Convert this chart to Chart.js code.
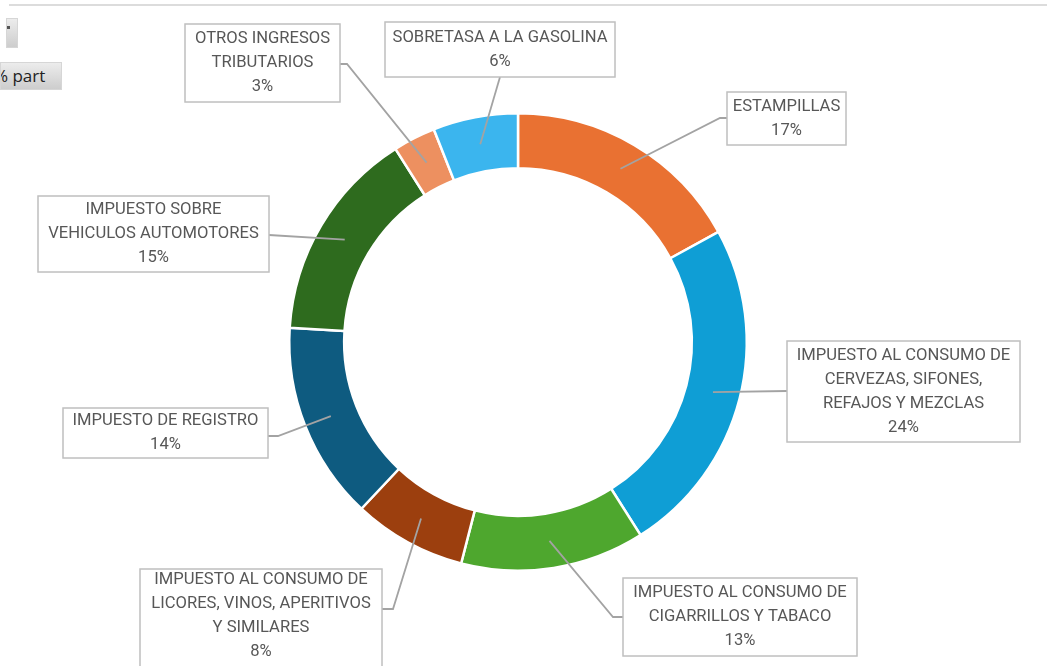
<!DOCTYPE html>
<html lang="es">
<head>
<meta charset="utf-8">
<title>Ingresos tributarios - % part</title>
<script src="https://cdn.jsdelivr.net/npm/chart.js@4.4.1/dist/chart.umd.min.js"></script>
<style>
  html, body { margin: 0; padding: 0; background: #fff; overflow: hidden; }
  #wrap { position: relative; width: 1047px; height: 666px; }
  #donut { position: absolute; left: 0; top: 0; }
  .topline { position: absolute; left: 9px; top: 4px; width: 1038px; height: 2px; background: #dcdcdc; }
  .btn { position: absolute; background: linear-gradient(#ececec, #cdcdcd); border: 1px solid #d6d6d6; box-sizing: border-box; overflow: hidden; }
  #btnFilter { left: 6px; top: 18px; width: 12px; height: 30px; }
  #btnFilter span { position: absolute; left: 0; top: 7px; width: 3px; height: 3px; background: #555; }
  #btnField { left: 0; top: 62px; width: 62px; height: 28px; font: 17px "Open Sans", "DejaVu Sans", sans-serif; color: #222; }
  #btnField div { position: absolute; left: -7px; top: 1px; white-space: nowrap; }
</style>
</head>
<body>
<div id="wrap">
  <div class="topline"></div>
  <div class="btn" id="btnFilter"><span></span></div>
  <div class="btn" id="btnField"><div>% part</div></div>
  <canvas id="donut" width="1047" height="666"></canvas>
</div>
<script>
// categories (clockwise from 12 o'clock), multi-line like the labels
const categories = [
  ["ESTAMPILLAS"],
  ["IMPUESTO AL CONSUMO DE", "CERVEZAS, SIFONES,", "REFAJOS Y MEZCLAS"],
  ["IMPUESTO AL CONSUMO DE", "CIGARRILLOS Y TABACO"],
  ["IMPUESTO AL CONSUMO DE", "LICORES, VINOS, APERITIVOS", "Y SIMILARES"],
  ["IMPUESTO DE REGISTRO"],
  ["IMPUESTO SOBRE", "VEHICULOS AUTOMOTORES"],
  ["OTROS INGRESOS", "TRIBUTARIOS"],
  ["SOBRETASA A LA GASOLINA"]
];
const shares = [17, 24, 13, 8, 14, 15, 3, 6];
const sliceColors = ["#E97132", "#0F9ED5", "#4EA72E", "#9C3F0E", "#0E5B80", "#2E6B1E", "#ED9060", "#3BB5EE"];

// callout boxes: rect + the point where the leader leaves the box (and optional elbow)
const callouts = [
  { x: 727, y: 92,  w: 119, h: 53,  from: [727, 118], elbow: [720, 118] },
  { x: 787, y: 341, w: 233, h: 101, from: [787, 391] },
  { x: 623, y: 578, w: 234, h: 78,  from: [623, 617], elbow: [613, 617] },
  { x: 140, y: 569, w: 242, h: 110, from: [382, 609], elbow: [393, 609] },
  { x: 63,  y: 408, w: 205, h: 50,  from: [268, 436], elbow: [278, 436] },
  { x: 38,  y: 196, w: 231, h: 76,  from: [269, 235] },
  { x: 185, y: 24,  w: 155, h: 78,  from: [340, 64],  elbow: [347, 64] },
  { x: 385, y: 22,  w: 230, h: 55,  from: [500, 77] }
];

const total = shares.reduce((a, b) => a + b, 0);

// draws the boxed labels and their leader lines on top of the ring
const calloutPlugin = {
  id: "callouts",
  afterDatasetsDraw(chart) {
    const ctx = chart.ctx;
    const arcs = chart.getDatasetMeta(0).data;
    ctx.save();
    arcs.forEach((arc, i) => {
      const c = callouts[i];
      const p = arc.getCenterPoint();
      ctx.beginPath();
      ctx.moveTo(c.from[0], c.from[1]);
      if (c.elbow) ctx.lineTo(c.elbow[0], c.elbow[1]);
      ctx.lineTo(p.x, p.y);
      ctx.strokeStyle = "#a3a3a3";
      ctx.lineWidth = 1.8;
      ctx.stroke();
    });
    arcs.forEach((arc, i) => {
      const c = callouts[i];
      ctx.fillStyle = "#ffffff";
      ctx.fillRect(c.x, c.y, c.w, c.h);
      ctx.strokeStyle = "#bfbfbf";
      ctx.lineWidth = 1.5;
      ctx.strokeRect(c.x, c.y, c.w, c.h);

      const lines = categories[i].concat([Math.round(shares[i] / total * 100) + "%"]);
      const lh = 24;
      let ty = c.y + c.h / 2 - (lines.length - 1) * lh / 2;
      if (c.h > 104) ty = c.y + 11;
      ctx.font = "16.6px Roboto, 'Open Sans', sans-serif";
      ctx.fillStyle = "#575757";
      ctx.textAlign = "center";
      ctx.textBaseline = "middle";
      lines.forEach((t, k) => ctx.fillText(t, c.x + c.w / 2, ty + k * lh));
    });
    ctx.restore();
  }
};

new Chart(document.getElementById("donut"), {
  type: "doughnut",
  data: {
    labels: categories,
    datasets: [{
      data: shares,
      backgroundColor: sliceColors,
      borderColor: "#ffffff",
      borderWidth: 2.5
    }]
  },
  options: {
    responsive: false,
    devicePixelRatio: 1,
    animation: false,
    cutout: "76%",
    layout: { padding: { left: 288, right: 299, top: 112, bottom: 94 } },
    plugins: {
      legend: { display: false },
      tooltip: { enabled: false }
    }
  },
  plugins: [calloutPlugin]
});
</script>
</body>
</html>
